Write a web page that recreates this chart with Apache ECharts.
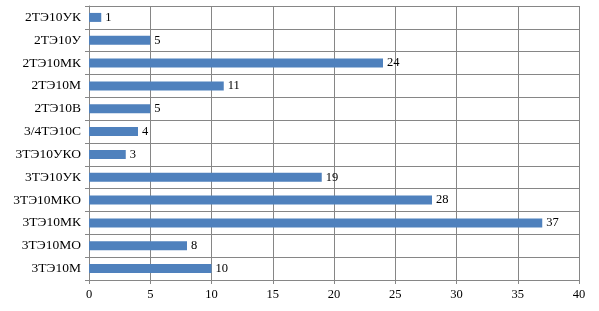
<!DOCTYPE html>
<html>
<head>
<meta charset="utf-8">
<script src="https://cdn.jsdelivr.net/npm/echarts@6/dist/echarts.min.js"></script>
<style>
  html, body { margin: 0; padding: 0; background: #fff; }
  #chart { width: 599px; height: 311px; }
</style>
</head>
<body>
<div id="chart"></div>
<script>
// categories listed top to bottom
const categories = ['2ТЭ10УК', '2ТЭ10У', '2ТЭ10МК', '2ТЭ10М', '2ТЭ10В', '3/4ТЭ10С',
  '3ТЭ10УКО', '3ТЭ10УК', '3ТЭ10МКО', '3ТЭ10МК', '3ТЭ10МО', '3ТЭ10М']
const values = [1, 5, 24, 11, 5, 4, 3, 19, 28, 37, 8, 10]

const gridColor = '#868686'
const font = '"Liberation Serif", "DejaVu Serif", serif'

const chart = echarts.init(document.getElementById('chart'))
chart.setOption({
  animation: false,
  backgroundColor: '#fff',
  grid: { left: 89, right: 20, top: 6, bottom: 31 },
  xAxis: {
    type: 'value',
    min: 0,
    max: 40,
    interval: 5,
    axisLine: { show: true, lineStyle: { color: gridColor } },
    axisTick: { show: true, length: 4, lineStyle: { color: gridColor } },
    axisLabel: { color: '#000', fontFamily: font, fontSize: 12.5, margin: 8 },
    splitLine: { show: true, lineStyle: { color: gridColor, width: 1 } },
  },
  yAxis: {
    type: 'category',
    inverse: true,
    data: categories,
    axisLine: { show: true, lineStyle: { color: gridColor } },
    axisTick: { show: true, length: 4, lineStyle: { color: gridColor } },
    axisLabel: { color: '#000', fontFamily: font, fontSize: 13.5, margin: 8 },
    splitLine: { show: true, lineStyle: { color: gridColor, width: 1 } },
  },
  series: [
    {
      type: 'bar',
      data: values,
      barWidth: 9,
      itemStyle: { color: '#4F81BD' },
      label: {
        show: true,
        position: 'right',
        distance: 4,
        color: '#000',
        fontFamily: font,
        fontSize: 12.5,
      },
    },
  ],
})
</script>
</body>
</html>
